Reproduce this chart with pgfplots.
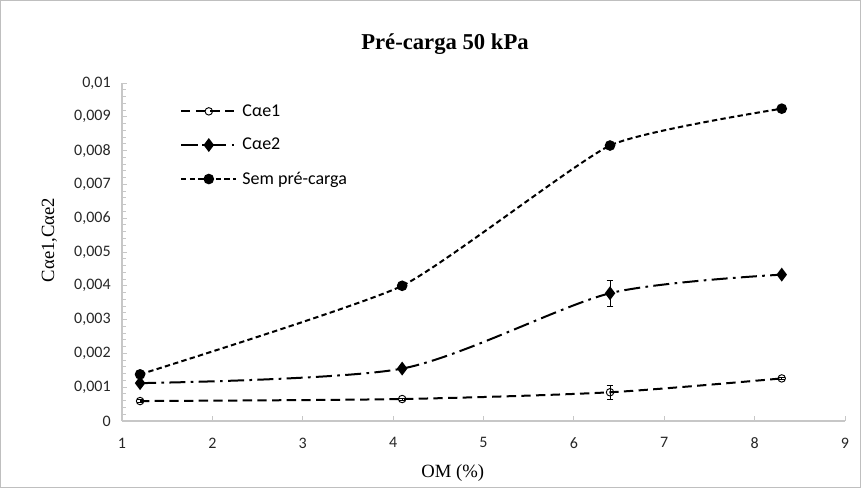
\documentclass[border=0pt]{standalone}
\usepackage{fontspec}
\setmainfont{Liberation Serif}
\newfontfamily\calibri{Carlito}
\usepackage{pgfplots}
\pgfplotsset{compat=1.18}
\begin{document}
\begin{tikzpicture}[x=0.75pt,y=0.75pt]
\draw[black!25, line width=0.75pt] (0.5,0.5) rectangle (860.5,487.5);
\begin{axis}[
  at={(91.5pt,50.25pt)}, anchor=south west,
  scale only axis, width=542.25pt, height=253.5pt,
  xmin=1, xmax=9, ymin=0, ymax=0.01,
  xtick={1,...,9},
  ytick={0,0.001,0.002,0.003,0.004,0.005,0.006,0.007,0.008,0.009,0.01},
  yticklabels={0,{0,001},{0,002},{0,003},{0,004},{0,005},{0,006},{0,007},{0,008},{0,009},{0,01}},
  scaled y ticks=false,
  minor y tick num=4,
  tick align=inside,
  axis x line*=bottom, axis y line*=left,
  axis line style={black!22, line width=0.9pt},
  tick style={black!22, line width=0.7pt},
  major tick length=4pt, minor tick length=3pt,
  ticklabel style={font=\calibri\fontsize{12}{14}\selectfont, text=black!85},
  /pgf/number format/assume math mode=true,
  xticklabel style={yshift=-9pt},
  yticklabel style={xshift=-5pt},
  xlabel={OM (\%)}, ylabel={Cαe1,Cαe2},
  label style={font=\fontsize{14}{16}\selectfont},
  xlabel style={yshift=-5pt, xshift=-23pt},
  ylabel style={yshift=6pt, xshift=9pt},
  legend style={at={(0.08,0.945)}, anchor=north west, draw=none, fill=none, inner sep=0pt,
    font=\calibri\fontsize{13.5}{15}\selectfont, row sep=11pt, column sep=2pt},
  legend cell align=left,
  legend image code/.code={
    \draw[#1, mark repeat=2, mark phase=2] plot coordinates {(0cm,0cm) (0.73cm,0cm) (1.45cm,0cm)};
  },
  clip=false,
]
\addplot+[black, line width=1.5pt, smooth, tension=0.45, dash pattern=on 7pt off 4pt,
  mark=o, mark size=2.8pt, mark options={solid, line width=0.7pt, fill=white},
  error bars/.cd, y dir=both, y explicit,
  error bar style={solid, line width=0.7pt}, error mark options={rotate=90, mark size=2.5pt, line width=0.7pt}]
  coordinates {(1.2,0.00059) +- (0,0.00005) (4.1,0.00065) +- (0,0.00003) (6.4,0.00085) +- (0,0.0002) (8.3,0.00126) +- (0,0.00004)};
\addlegendentry{Cαe1}
\addplot+[black, line width=1.5pt, smooth, tension=0.45, dash pattern=on 12pt off 4pt on 2pt off 4pt,
  mark=diamond*, mark size=4pt, mark options={solid, fill=black},
  error bars/.cd, y dir=both, y explicit,
  error bar style={solid, line width=0.7pt}, error mark options={rotate=90, mark size=2.5pt, line width=0.7pt}]
  coordinates {(1.2,0.00112) +- (0,0.00003) (4.1,0.00155) +- (0,0.00005) (6.4,0.00378) +- (0,0.00038) (8.3,0.00433) +- (0,0.00003)};
\addlegendentry{Cαe2}
\addplot+[black, line width=1.5pt, smooth, tension=0.3, dash pattern=on 4pt off 2.5pt,
  mark=*, mark size=3.2pt, mark options={solid, fill=black}]
  coordinates {(1.2,0.00138) (4.1,0.00400) (6.4,0.00815) (8.3,0.00924)};
\addlegendentry{Sem pré-carga}
\end{axis}
\node[font=\bfseries\fontsize{17}{19}\selectfont] at (445,444) {Pré-carga 50 kPa};
\end{tikzpicture}
\end{document}
